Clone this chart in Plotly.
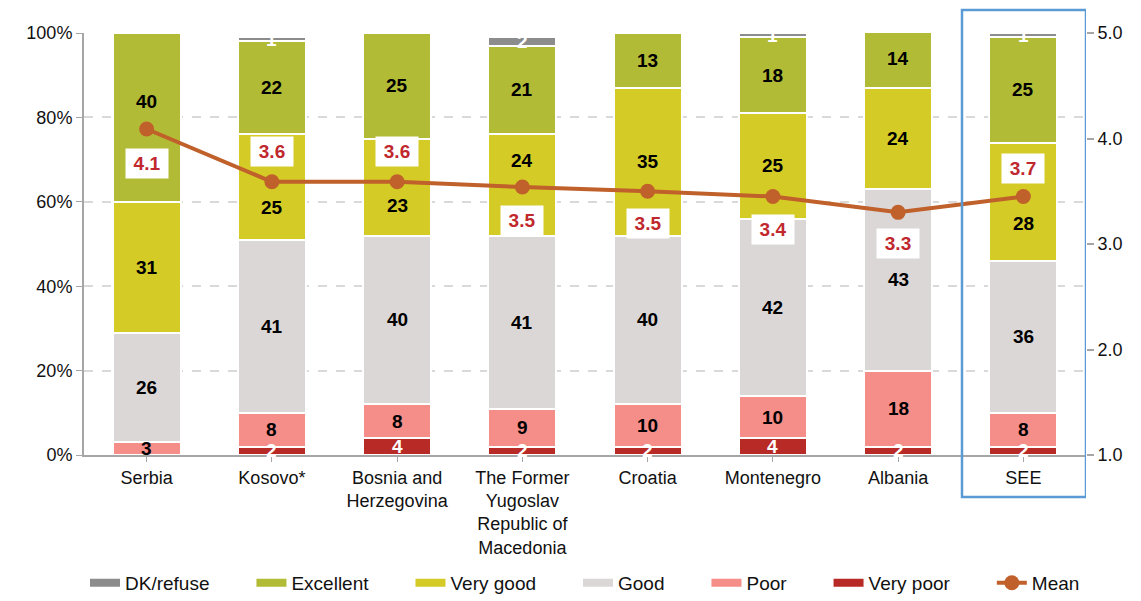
import plotly.graph_objects as go

categories = ["Serbia", "Kosovo*", "Bosnia and<br>Herzegovina",
              "The Former<br>Yugoslav<br>Republic of<br>Macedonia",
              "Croatia", "Montenegro", "Albania", "SEE"]
very_poor = [0, 2, 4, 2, 2, 4, 2, 2]
poor = [3, 8, 8, 9, 10, 10, 18, 8]
good = [26, 41, 40, 41, 40, 42, 43, 36]
very_good = [31, 25, 23, 24, 35, 25, 24, 28]
excellent = [40, 22, 25, 21, 13, 18, 14, 25]
dk_refuse = [0, 1, 1, 2, 0, 1, 0, 1]
mean_values = [4.09, 3.59, 3.59, 3.54, 3.50, 3.45, 3.30, 3.45]
mean_labels = ["4.1", "3.6", "3.6", "3.5", "3.5", "3.4", "3.3", "3.7"]
left_ticks = [0, 20, 40, 60, 80, 100]
left_tick_text = ["0%", "20%", "40%", "60%", "80%", "100%"]
right_ticks = [1, 2, 3, 4, 5]
right_tick_text = ["1.0", "2.0", "3.0", "4.0", "5.0"]

# ---- styling (not data) ----
FONT = "Liberation Sans, Arial, sans-serif"
mean_label_shift = [-34, 30, 30, -33, -32, -33, -31, 28]
# per-series pixel offsets for the in-bar labels (moved to avoid the mean line)
label_shift = {
    "Very good": [0, -20, -18, 24, 0, 0, 0, -22],
    "Excellent": [16, 0, 0, 0, 0, 0, 0, 0],
}
LEGEND_PAD = "\u00a0" * 7
xs = list(range(len(categories)))

series = [
    ("Very poor", very_poor, "#B82A26", "white"),
    ("Poor", poor, "#F58D89", "black"),
    ("Good", good, "#DBD7D6", "black"),
    ("Very good", very_good, "#D4CB26", "black"),
    ("Excellent", excellent, "#B2BB35", "black"),
    ("DK/refuse", dk_refuse, "#8C8C8C", "white"),
]

fig = go.Figure()
base = [0] * len(xs)
for name, vals, color, tcolor in series:
    fig.add_trace(go.Bar(
        x=xs, y=vals, name=name, showlegend=False,
        marker=dict(color=color, line=dict(color="white", width=2)),
        hoverinfo="skip",
    ))
    shifts = label_shift.get(name, [0] * len(xs))
    for i, v in enumerate(vals):
        if v:
            fig.add_annotation(
                x=i, y=base[i] + v / 2, xref="x", yref="y",
                text="<b>%d</b>" % v, showarrow=False, yshift=shifts[i],
                font=dict(family=FONT, size=19, color=tcolor),
            )
    base = [b + v for b, v in zip(base, vals)]

# legend entries (thick line swatches like the original)
for name, vals, color, tcolor in reversed(series):
    fig.add_trace(go.Scatter(
        x=[None], y=[None], name=name + LEGEND_PAD, mode="lines",
        line=dict(color=color, width=8), hoverinfo="skip",
    ))

fig.add_trace(go.Scatter(
    x=xs, y=mean_values, name="Mean", yaxis="y2",
    mode="lines+markers",
    line=dict(color="#C0602A", width=4),
    marker=dict(color="#C0602A", size=15),
    hoverinfo="skip",
))

for i, (v, lab) in enumerate(zip(mean_values, mean_labels)):
    fig.add_annotation(
        x=i, y=v, xref="x", yref="y2", text="<b>" + lab + "</b>",
        showarrow=False, yshift=mean_label_shift[i],
        font=dict(family=FONT, size=19, color="#C0282D"),
        bgcolor="white", borderpad=4, width=34,
    )

fig.add_shape(type="rect", xref="x", yref="paper",
              x0=6.51, x1=7.5, y0=-0.0995, y1=1.0545,
              line=dict(color="#5B9BD5", width=2.5), layer="above")

fig.update_layout(
    width=1141, height=601,
    margin=dict(l=76, r=63, t=25, b=154, autoexpand=False),
    barmode="stack", bargap=0.456,
    plot_bgcolor="white", paper_bgcolor="white",
    font=dict(family=FONT, size=19, color="#222222"),
    showlegend=True,
    legend=dict(orientation="h", x=0.5, xanchor="center", y=-0.303, yanchor="middle",
                traceorder="normal", font=dict(size=19, color="#111111")),
    xaxis=dict(
        tickmode="array", tickvals=xs, ticktext=categories,
        range=[-0.5, 7.5], showline=True, linecolor="#A6A6A6", linewidth=2,
        ticks="outside", tickson="boundaries", ticklen=5, tickcolor="#A6A6A6",
        tickfont=dict(size=18, color="#111111"), automargin=False,
    ),
    yaxis=dict(
        range=[0, 100], tickvals=left_ticks, ticktext=left_tick_text,
        showline=True, linecolor="#A6A6A6", linewidth=2,
        ticks="outside", ticklen=6, tickcolor="#A6A6A6",
        showgrid=True, gridcolor="#D9D9D9", griddash="dash", gridwidth=1.5,
        zeroline=False, tickfont=dict(size=18, color="#111111"), automargin=False,
    ),
    yaxis2=dict(
        range=[1, 5], tickvals=right_ticks, ticktext=right_tick_text,
        overlaying="y", side="right", showgrid=False, zeroline=False,
        showline=False,
        ticks="outside", ticklen=7, tickcolor="#A6A6A6", tickwidth=2,
        tickfont=dict(size=18, color="#111111"), automargin=False,
    ),
)

fig.write_html("out.html")
